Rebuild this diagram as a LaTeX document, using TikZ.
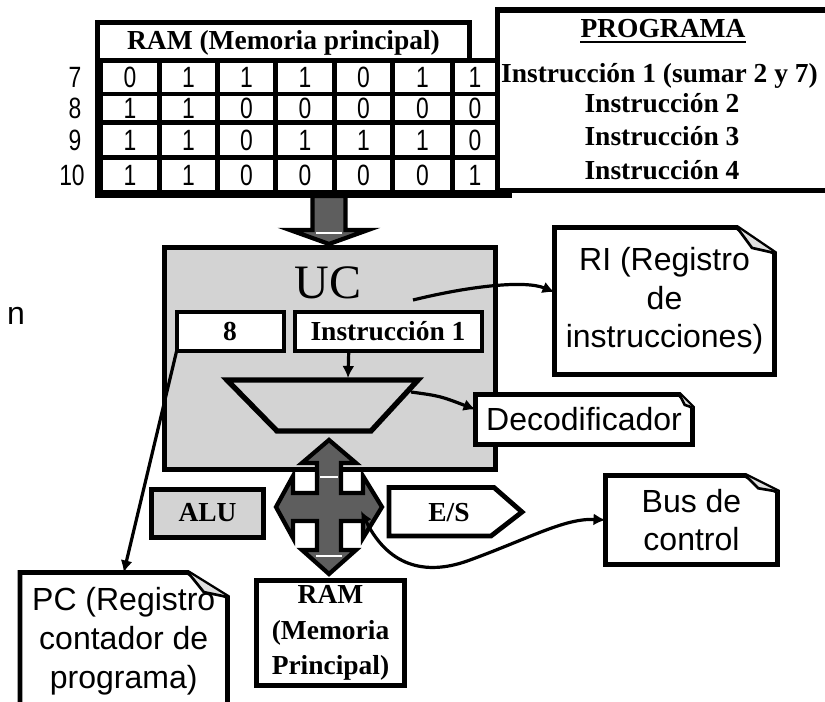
\documentclass[tikz,border=0pt]{standalone}
\usepackage{fontspec}
\setmainfont{Liberation Serif}
\newfontfamily\sansf{Liberation Sans}
\newfontfamily\sansnarrow[FakeStretch=0.78]{Liberation Sans}
\usetikzlibrary{arrows.meta,calc}

\definecolor{ucgrey}{HTML}{D3D3D3}
\definecolor{busgrey}{HTML}{5E5E5E}

% column centres and widths of the memory cells
\def\colx{{130,188.5,246.5,305,363.5,422.5,475}}
\def\colw{{54,53,53,54,53,55,40}}

% one row of memory cells: label, centre y, height, bits
\newcommand\memrow[4]{%
  \foreach \bit [count=\k from 0] in {#4} {%
    \pgfmathsetmacro\xc{\colx[\k]}%
    \pgfmathsetmacro\ww{\colw[\k]}%
    \node[cell,minimum width=\ww*0.75pt,minimum height=#3*0.75pt] (c-#1-\k) at (\xc,#2) {\bit};
  }%
}

% note outline with a folded top-right corner around a named node
\newcommand\foldnote[3]{%
  \draw[noteline] (#1.south west) -- (#1.north west) -- ($(#1.north east)+(-#2,0)$)
     -- ($(#1.north east)+(0,#3)$) -- (#1.south east) -- cycle;
  \draw[foldline] ($(#1.north east)+(-#2,0)$) -- ($(#1.north east)+({-0.6*#2},{0.8*#3})$)
     -- ($(#1.north east)+(0,#3)$);
}

\begin{document}
\begin{tikzpicture}[x=0.75pt,y=-0.75pt,
  box/.style 2 args={minimum width=#1*0.75pt,minimum height=#2*0.75pt,inner sep=0pt,outer sep=0pt},
  boxline/.style={draw=black,line width=3.6pt,line join=miter},
  serifb/.style={font=\fontsize{20.6}{26}\selectfont\bfseries,text height=14pt,text depth=2pt,inner sep=0pt},
  serifstack/.style={font=\fontsize{20.6}{26.5}\selectfont\bfseries,align=center,inner sep=0pt},
  calloutfont/.style={font=\sansf\fontsize{24}{29}\selectfont,align=center},
  digit/.style={font=\sansnarrow\fontsize{22}{24}\selectfont,text height=15.5pt,text depth=0pt,inner sep=0pt},
  cell/.style={fill=white,outer sep=0pt,digit},
  conn/.style={line width=2.4pt,-{Latex[length=9pt,width=9pt]}},
  noteline/.style={draw=black,line width=3.6pt,line join=miter},
  foldline/.style={draw=black,line width=2pt,fill=gray!25,line join=miter},
  bigarrow/.style={fill=busgrey,draw=black,line width=3.2pt,line join=miter},
]
\useasboundingbox (0,0) rectangle (825,702);
\clip (0,0) rectangle (825,702);

% ---------- main memory table ----------
\fill[black] (95,58) rectangle (497,192);
\fill[black] (95,189) rectangle (512,198);
\node[boxline,fill=white,box={372}{37.5},serifb] (ramtitle) at (283.5,41.25) {RAM (Memoria principal)};

\memrow{7}{77.5}{29}{0,1,1,1,0,1,1}
\memrow{8}{108}{24}{1,1,0,0,0,0,0}
\memrow{9}{140}{30}{1,1,0,1,1,1,0}
\memrow{10}{175}{30}{1,1,0,0,0,0,1}

\node[digit] (row7) at (75,77.5) {7};
\node[digit] (row8) at (75,108) {8};
\node[digit] (row9) at (75,140) {9};
\node[digit] (row10) at (72,175) {10};

% ---------- program listing ----------
\node[draw=black,line width=4pt,fill=white,box={352.5}{180.5}] (prog) at (673.75,100.25) {};
\node[serifb] (ptitle) at (663,30) {PROGRAMA};
\draw[line width=2pt] ([yshift=-3pt]ptitle.base west) -- ([yshift=-3pt]ptitle.base east);
\node[serifb] (pi1) at (659.5,75) {Instrucción 1 (sumar 2 y 7)};
\node[serifb] (pi2) at (662,105) {Instrucción 2};
\node[serifb] (pi3) at (662,138) {Instrucción 3};
\node[serifb] (pi4) at (662,172) {Instrucción 4};

% ---------- transfer arrow memory -> control unit ----------
\draw[bigarrow] (312.5,196) -- (345.5,196) -- (345.5,230) -- (368,230) -- (329,244)
   -- (290,230) -- (312.5,230) -- cycle;
\draw[white,line width=1.6pt] (316,233) -- (342,233);

% ---------- control unit ----------
\node[boxline,fill=ucgrey,box={331}{222}] (uc) at (330,358.5) {};
\node[font=\fontsize{36}{40}\selectfont,text height=24pt,text depth=0pt,inner sep=0pt] (uclabel) at (328,283) {UC};
\node[draw=black,line width=3pt,fill=white,box={107}{39},serifb] (pcv) at (230,332) {8};
\node[draw=black,line width=3pt,fill=white,box={187}{39},serifb] (ireg) at (388,332) {Instrucción 1};

% decoder
\draw[fill=ucgrey,line width=4pt,line join=miter] (227,380) -- (418,380) -- (371,431) -- (277,431) -- cycle;
\coordinate (decTop) at (348,378);
\coordinate (decR) at (411,392);
\coordinate (riFrom) at (413,300);
\draw[conn] ($(ireg.south west)!0.29!(ireg.south east)$) -- (decTop);

% ---------- ALU, I/O, memory ----------
\node[boxline,fill=ucgrey,box={112}{48},serifb] (alu) at (207.5,513.5) {ALU};
\draw[boxline,fill=white] (389,487.5) -- (494,487.5) -- (522,512) -- (491,536) -- (389,536) -- cycle;
\node[serifb] (es) at (449,513) {E/S};
\node[boxline,fill=white,box={148}{105},serifstack] (ram2) at (330.5,633) {RAM\\(Memoria\\Principal)};

% four-way bus arrow
\draw[bigarrow] (329,440) -- (356,463) -- (341,463) -- (341,493) -- (363,493) -- (363,476)
   -- (382,507) -- (363,538) -- (363,521) -- (341,521) -- (341,550) -- (356,550) -- (329,574)
   -- (302,550) -- (317,550) -- (317,521) -- (293,521) -- (293,538) -- (276,507) -- (293,476)
   -- (293,493) -- (317,493) -- (317,463) -- (302,463) -- cycle;
\draw[white,line width=1.6pt] (320,477) -- (338,477);
\draw[white,line width=1.6pt] (316,556) -- (342,556);
\coordinate (crossR) at (361,511);

% ---------- callouts ----------
\node[calloutfont,fill=white,box={220}{147}] (ri) at (664.5,301) {RI (Registro\\de\\instrucciones)};
\foldnote{ri}{37.5}{25.5}
\node[calloutfont,fill=white,box={217}{50}] (dec) at (584,419.5) {Decodificador};
\foldnote{dec}{13}{13}
\node[calloutfont,fill=white,box={172}{89}] (bus) at (691.5,520) {Bus de\\control};
\foldnote{bus}{32}{16}
\node[calloutfont,fill=white,box={207.5}{137.5}] (pc) at (123.75,641.25) {PC (Registro\\contador de\\programa)};
\foldnote{pc}{39.5}{24.5}

\node[font=\sansf\fontsize{24}{28}\selectfont,inner sep=0pt] (nlbl) at (16,316) {n};

% ---------- connectors ----------
\draw[conn] (riFrom) .. controls (470,286) and (525,280) .. ($(ri.north west)!0.44!(ri.south west)$);
\draw[conn] (decR) .. controls (440,396) .. ($(dec.north west)!0.3!(dec.south west)$);
\draw[conn] (pcv.south west) -- (pc.north);
\draw[line width=2.4pt,{Latex[length=9pt,width=9pt]}-{Latex[length=9pt,width=9pt]}]
   (crossR) .. controls (390,570) and (430,575) .. (470,560)
   .. controls (530,538) and (565,518) .. (bus.west);
\end{tikzpicture}
\end{document}
